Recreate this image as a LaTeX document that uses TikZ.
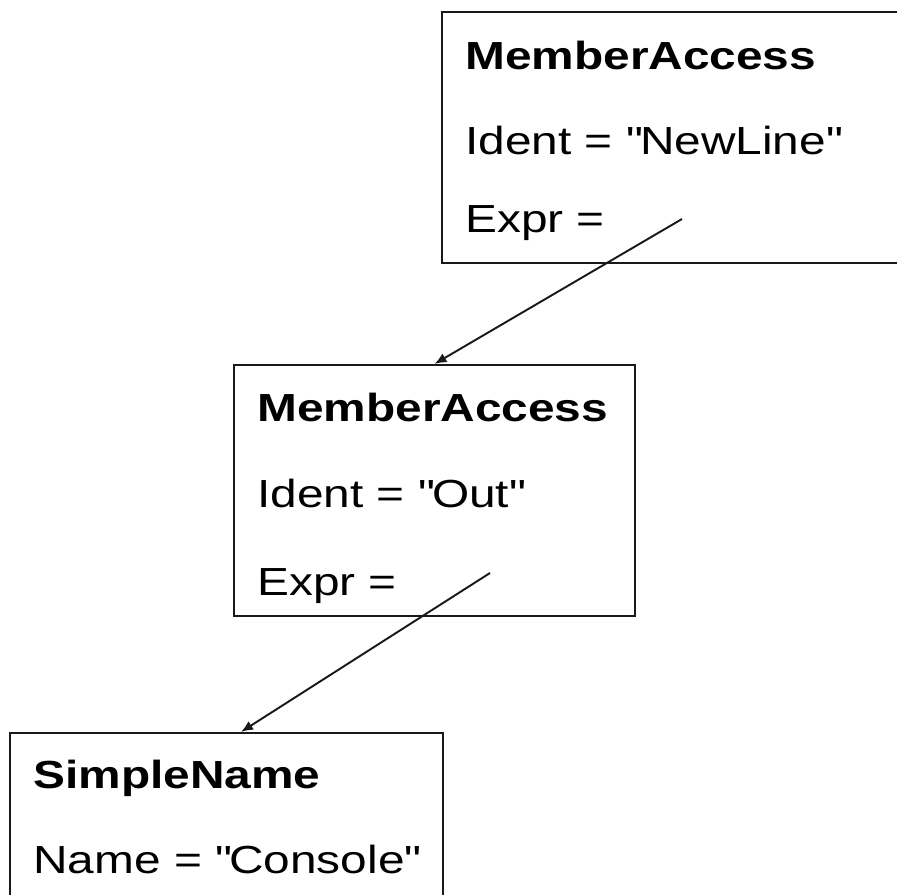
\documentclass[tikz,border=0pt]{standalone}
\usepackage{fontspec}
\setmainfont{Liberation Sans}[FakeStretch=1.22]
\usetikzlibrary{arrows.meta}

\begin{document}
\begin{tikzpicture}
	\useasboundingbox (0,0) rectangle (17.94,-17.9);
	\clip (0,0) rectangle (17.94,-17.9);
	\begin{scope}[every node/.style={rectangle,draw=black!90,line width=1.2pt,inner sep=0pt}]
		\node[minimum width=9.2cm,minimum height=5.02cm] (ma1) at (13.44,-2.75) {};
		\node[minimum width=8.02cm,minimum height=5.02cm] (ma2) at (8.69,-9.81) {};
		\node[minimum width=8.66cm,minimum height=3.64cm] (sn) at (4.53,-16.48) {};
	\end{scope}
	
	\begin{scope}[every node/.style={anchor=base west,inner sep=0pt,font=\fontsize{22.3}{26}\selectfont}]
		\node (ma1title) at (9.30,-1.40) {\bfseries MemberAccess};
		\node (ma1ident) at (9.30,-3.10) {Ident = \textquotedbl NewLine\textquotedbl};
		\node (ma1expr) at (9.30,-4.66) {Expr =};
		\node (ma2title) at (5.14,-8.44) {\bfseries MemberAccess};
		\node (ma2ident) at (5.14,-10.14) {Ident = \textquotedbl Out\textquotedbl};
		\node (ma2expr) at (5.14,-11.90) {Expr =};
		\node (sntitle) at (0.66,-15.76) {\bfseries SimpleName};
		\node (snname) at (0.66,-17.46) {Name = \textquotedbl Console\textquotedbl};
	\end{scope}
	
	\coordinate (e1) at (13.64,-4.38);
	\coordinate (e2) at (9.80,-11.46);
	\begin{scope}[line width=1.1pt,draw=black!90]
		\draw [-{Latex[length=2.4mm,width=2mm]}] (e1) -- (ma2.north);
		\draw [-{Latex[length=2.4mm,width=2mm]}] (e2) -- ([xshift=0.29cm]sn.north);
	\end{scope}
\end{tikzpicture}
\end{document}
